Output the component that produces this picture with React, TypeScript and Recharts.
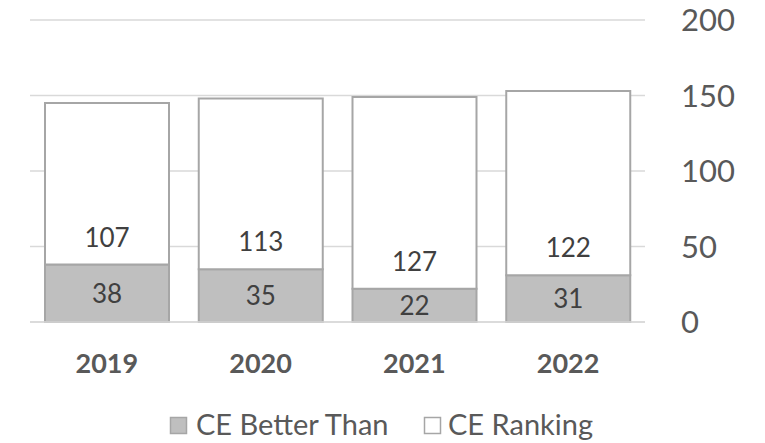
import React from 'react';
import { BarChart, Bar, XAxis, YAxis, CartesianGrid, LabelList } from 'recharts';

const years = ['2019', '2020', '2021', '2022'];
const betterThan = [38, 35, 22, 31];
const ranking = [107, 113, 127, 122];
const yTicks = [0, 50, 100, 150, 200];
const seriesNames = ['CE Better Than', 'CE Ranking'];

const data = years.map((y, i) => ({ year: y, better: betterThan[i], ranking: ranking[i] }));

const FONT = 'Lato, "Open Sans", sans-serif';
const TEXT = '#595959';
const LABEL = '#404040';

export default function App() {
  return (
    <div style={{ position: 'absolute', left: 0, top: 0, width: 765, height: 443, background: '#fff', fontFamily: FONT }}>
      <BarChart width={765} height={443} data={data} margin={{ top: 20, right: 20, left: 30, bottom: 81 }}>
        <CartesianGrid horizontal vertical={false} stroke="#d9d9d9" strokeWidth={1.5} />
        <XAxis
          dataKey="year"
          axisLine={{ stroke: '#d9d9d9', strokeWidth: 1.5 }}
          tickLine={false}
          height={40}
          tickMargin={26}
          tick={{ fill: TEXT, fontSize: 27, fontWeight: 700, fontFamily: FONT }}
        />
        <YAxis
          orientation="right"
          domain={[0, 200]}
          ticks={yTicks}
          axisLine={false}
          tickLine={false}
          width={100}
          tickMargin={30}
          tick={{ fill: TEXT, fontSize: 31, fontFamily: FONT, textAnchor: 'start' }}
        />
        <Bar dataKey="better" stackId="a" fill="#bfbfbf" stroke="#a6a6a6" strokeWidth={2} barSize={124} isAnimationActive={false}>
          <LabelList dataKey="better" position="center" fill={LABEL} fontSize={26} fontFamily={FONT} />
        </Bar>
        <Bar dataKey="ranking" stackId="a" fill="#ffffff" stroke="#a6a6a6" strokeWidth={2} barSize={124} isAnimationActive={false}>
          <LabelList dataKey="ranking" position="insideBottom" offset={18} fill={LABEL} fontSize={26} fontFamily={FONT} />
        </Bar>
      </BarChart>
      <svg width={765} height={443} style={{ position: 'absolute', left: 0, top: 0, pointerEvents: 'none' }}>
        <rect x={170.5} y={417.5} width={16} height={16} fill="#bfbfbf" stroke="#a6a6a6" strokeWidth={1.5} />
        <text x={196} y={435} fontSize={29} fill={TEXT} fontFamily={FONT}>{seriesNames[0]}</text>
        <rect x={424.5} y={417.5} width={16} height={16} fill="#ffffff" stroke="#a6a6a6" strokeWidth={1.5} />
        <text x={448} y={435} fontSize={29} fill={TEXT} fontFamily={FONT}>{seriesNames[1]}</text>
      </svg>
    </div>
  );
}
